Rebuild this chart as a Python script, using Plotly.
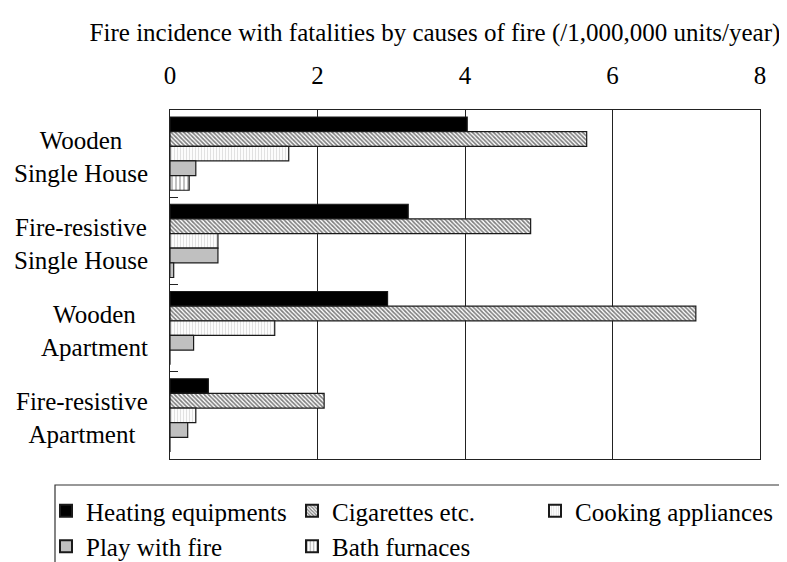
import plotly.graph_objects as go

categories = ["Wooden Single House", "Fire-resistive Single House", "Wooden Apartment", "Fire-resistive Apartment"]
category_labels = ["Wooden<br>Single House", "Fire-resistive<br>Single House", "Wooden<br>Apartment", "Fire-resistive<br>Apartment"]
series_names = ["Heating equipments", "Cigarettes etc.", "Cooking appliances", "Play with fire", "Bath furnaces"]
heating = [4.03, 3.23, 2.95, 0.52]
cigarettes = [5.65, 4.89, 7.13, 2.09]
cooking = [1.61, 0.65, 1.42, 0.35]
play_fire = [0.35, 0.65, 0.32, 0.24]
bath = [0.26, 0.05, 0.0, 0.0]
x_ticks = [0, 2, 4, 6, 8]
title_text = "Fire incidence with fatalities by causes of fire (/1,000,000 units/year)"

FONT = "Liberation Serif, Times New Roman, serif"
FS = 25
OFF = 8  # page body margin
W, H = 787 - OFF, 562 - OFF
L, T = 170 - OFF, 110 - OFF
R = W - (760 - OFF)
B = H - (459 - OFF)
PW, PH = W - L - R, H - T - B

def px_x(p):
    # p in page pixels
    return (p - OFF - L) / PW

def px_y(p):
    return (H - B - (p - OFF)) / PH

styles = [
    dict(color="black", pattern=None, legend="legend"),
    dict(color="white", pattern=dict(shape="\\", fgcolor="black", bgcolor="white", size=3, solidity=0.55), legend="legend2"),
    dict(color="white", pattern=dict(shape="|", fgcolor="#c4c4c4", bgcolor="white", size=3, solidity=0.4), legend="legend3"),
    dict(color="#c0c0c0", pattern=None, legend="legend"),
    dict(color="white", pattern=dict(shape="|", fgcolor="#505050", bgcolor="white", size=4, solidity=0.35), legend="legend2"),
]
values = [heating, cigarettes, cooking, play_fire, bath]

fig = go.Figure()
for name, vals, st in zip(series_names, values, styles):
    marker = dict(color=st["color"], line=dict(color="#1a1a1a", width=1.2))
    if st["pattern"]:
        marker["pattern"] = st["pattern"]
    fig.add_trace(go.Bar(
        x=vals, y=categories, orientation="h", name=name, marker=marker,
        legend=st["legend"],
    ))

for cat, lab in zip(categories, category_labels):
    fig.add_annotation(
        x=px_x(150), xref="paper", y=cat, yref="y", text=lab, showarrow=False,
        xanchor="right", yanchor="middle", align="center", yshift=-3,
        font=dict(family=FONT, size=FS, color="black"),
    )

leg_common = dict(orientation="v", bgcolor="rgba(0,0,0,0)", borderwidth=0,
                  font=dict(family=FONT, size=FS, color="black"),
                  xanchor="left", yanchor="top", traceorder="normal", itemsizing="constant")
ly = px_y(488)
fig.update_layout(
    legend=dict(x=px_x(46), y=ly, **leg_common),
    legend2=dict(x=px_x(292), y=ly, **leg_common),
    legend3=dict(x=px_x(535), y=ly, **leg_common),
)

fig.add_shape(type="rect", xref="paper", yref="paper",
              x0=px_x(55), x1=px_x(780), y0=px_y(600), y1=px_y(485),
              line=dict(color="#333", width=1.2), fillcolor="rgba(0,0,0,0)", layer="above")

fig.update_layout(
    width=W, height=H,
    margin=dict(l=L, r=R, t=T, b=B, autoexpand=False),
    paper_bgcolor="white", plot_bgcolor="white",
    barmode="group", bargap=0.16, bargroupgap=0,
    font=dict(family=FONT, size=FS, color="black"),
    showlegend=True,
    title=dict(text=title_text, x=(435 - OFF) / W, xref="container", xanchor="center",
               y=1 - (32 - OFF) / H, yref="container", yanchor="middle",
               font=dict(family=FONT, size=25, color="black")),
    xaxis=dict(side="top", range=[0, 8], tickvals=x_ticks, ticktext=[str(v) for v in x_ticks],
               showgrid=True, gridcolor="#222", gridwidth=1, zeroline=False,
               showline=True, linecolor="#222", linewidth=1.2, mirror=True,
               ticks="", ticklabelstandoff=15,
               tickfont=dict(family=FONT, size=FS, color="black")),
    yaxis=dict(categoryorder="array", categoryarray=categories, autorange="reversed",
               showticklabels=False, showgrid=False, zeroline=False,
               showline=True, linecolor="#222", linewidth=1.2, mirror=True,
               ticks="inside", ticklen=8, tickcolor="#222", tickson="boundaries"),
)

fig.write_html("out.html")
